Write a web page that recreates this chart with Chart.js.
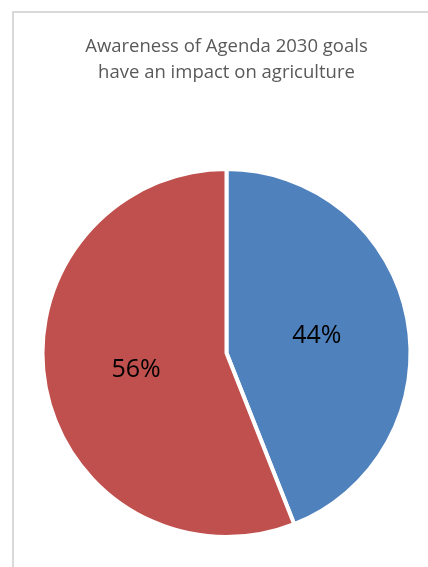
<!DOCTYPE html>
<html>
<head>
<meta charset="utf-8">
<script src="https://cdn.jsdelivr.net/npm/chart.js@4/dist/chart.umd.min.js"></script>
<style>
  html, body { margin: 0; padding: 0; background: #fff; overflow: hidden; }
  #wrap { position: relative; width: 428px; height: 567px; overflow: hidden; }
  #frame {
    position: absolute; left: 12px; top: 11px; width: 440px; height: 580px;
    border-left: 2px solid #d9d9d9; border-top: 2px solid #d9d9d9;
  }
  #chart { position: absolute; left: 0; top: 0; }
</style>
</head>
<body>
<div id="wrap">
  <div id="frame"></div>
  <canvas id="chart" width="428" height="567"></canvas>
</div>
<script>
const titleLines = ['Awareness of Agenda 2030 goals', 'have an impact on agriculture'];
const categories = ['Yes', 'No'];
const shares = [44, 56];
const sliceColors = ['#4F81BD', '#C0504D'];

const pctLabels = {
  id: 'pctLabels',
  afterDatasetsDraw(chart) {
    const ctx = chart.ctx;
    const meta = chart.getDatasetMeta(0);
    ctx.save();
    ctx.font = '25px "Open Sans"';
    ctx.fillStyle = '#000';
    ctx.textAlign = 'center';
    ctx.textBaseline = 'middle';
    meta.data.forEach((arc, i) => {
      const pos = arc.tooltipPosition();
      ctx.fillText(shares[i] + '%', pos.x, pos.y);
    });
    ctx.restore();
  }
};

new Chart(document.getElementById('chart'), {
  type: 'pie',
  data: {
    labels: categories,
    datasets: [{
      data: shares,
      backgroundColor: sliceColors,
      borderColor: '#fff',
      borderWidth: 4,
      radius: 184,
    }],
  },
  options: {
    responsive: false,
    animation: false,
    layout: { padding: { left: 25, right: 0, top: 0, bottom: 0 } },
    plugins: {
      legend: { display: false },
      tooltip: { enabled: false },
      title: {
        display: true,
        text: titleLines,
        color: '#595959',
        font: { family: '"Open Sans"', size: 18.5, weight: 'normal', lineHeight: 1.41 },
        padding: { top: 34, bottom: 53 },
      },
    },
  },
  plugins: [pctLabels],
});
</script>
</body>
</html>
